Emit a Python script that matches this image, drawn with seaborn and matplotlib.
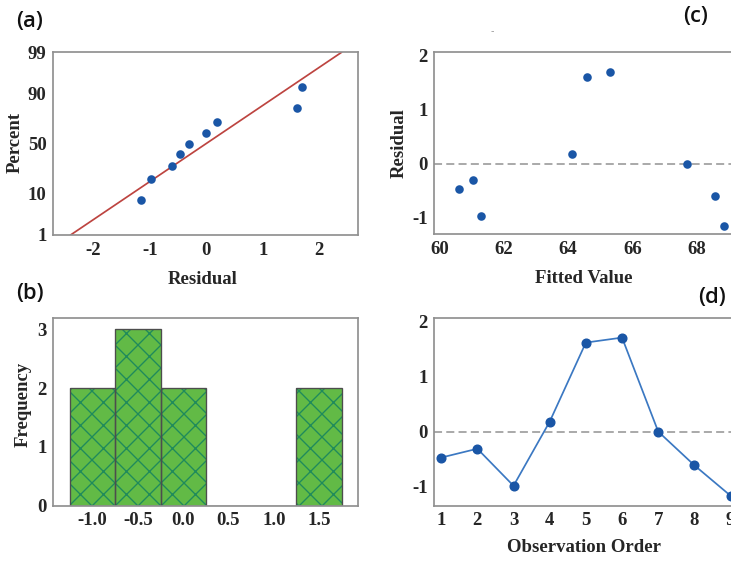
import statistics
import matplotlib
matplotlib.use("Agg")
import matplotlib.pyplot as plt
import matplotlib.ticker as mticker
import seaborn as sns

obs_order = [1, 2, 3, 4, 5, 6, 7, 8, 9]
residuals = [-0.47, -0.31, -0.98, 0.18, 1.61, 1.70, 0.00, -0.61, -1.16]
fitted = [60.60, 61.04, 61.30, 64.13, 64.59, 65.29, 67.68, 68.55, 68.85]

# normal probability plot: percent of each sorted residual
prob_percent = [7.4, 18.1, 28.7, 39.4, 50.0, 60.6, 71.3, 81.9, 92.6]
pct_ticks = [1, 10, 50, 90, 99]

# histogram bins / ticks
hist_edges = [-1.25, -0.75, -0.25, 0.25, 0.75, 1.25, 1.75]
hist_ticks = [-1.0, -0.5, 0.0, 0.5, 1.0, 1.5]

# colours
dot_blue = "#1a56a6"
line_blue = "#3b78c2"
fit_red = "#bd4440"
bar_green = "#62ba46"
hatch_green = "#1f8a5c"
spine_grey = "#909090"

sns.set_theme(style="white")
plt.rcParams["font.family"] = ["Liberation Serif", "DejaVu Serif"]
plt.rcParams["axes.unicode_minus"] = False
plt.rcParams["hatch.linewidth"] = 0.7

DPI = 138
fig = plt.figure(figsize=(732 / DPI, 562 / DPI), dpi=DPI)

ax_a = fig.add_axes([0.0728, 0.5819, 0.4167, 0.3251])
ax_b = fig.add_axes([0.0728, 0.1002, 0.4167, 0.3345])
ax_c = fig.add_axes([0.5933, 0.5831, 0.4176, 0.3238])
ax_d = fig.add_axes([0.5933, 0.1002, 0.4176, 0.3345])

tick_font = dict(family="Liberation Serif", weight="bold", size=9.8)
label_font = dict(family="Liberation Serif", weight="bold", size=9.8)


def style(ax):
    for s in ax.spines.values():
        s.set_color(spine_grey)
        s.set_linewidth(0.9)
        s.set_visible(True)
    ax.tick_params(length=0, pad=3.5)
    for t in ax.get_xticklabels() + ax.get_yticklabels():
        t.set_fontproperties(matplotlib.font_manager.FontProperties(**tick_font))
    ax.grid(False)


# (a) normal probability plot
nd = statistics.NormalDist()
z_pts = [nd.inv_cdf(p / 100) for p in prob_percent]
z_lo, z_hi = nd.inv_cdf(0.01), nd.inv_cdf(0.99)
mu = statistics.mean(residuals)
sd = statistics.stdev(residuals)
sns.lineplot(x=[mu + sd * z_lo, mu + sd * z_hi], y=[z_lo, z_hi], ax=ax_a,
             color=fit_red, linewidth=0.9)
sns.scatterplot(x=sorted(residuals), y=z_pts, ax=ax_a, color=dot_blue,
                s=20, linewidth=0, zorder=3)
ax_a.set_xlim(-2.71, 2.69)
ax_a.set_ylim(z_lo, z_hi)
ax_a.set_xticks([-2, -1, 0, 1, 2])
ax_a.set_yticks([nd.inv_cdf(p / 100) for p in pct_ticks])
ax_a.set_yticklabels([str(p) for p in pct_ticks])
ax_a.tick_params(axis="x", pad=5)
ax_a.set_xlabel("Residual", **label_font, va="center")
ax_a.set_ylabel("Percent", **label_font, va="center", ha="center")
ax_a.xaxis.set_label_coords(0.49, -0.246)
ax_a.yaxis.set_label_coords(-0.1256, 0.509)
style(ax_a)

# (b) histogram
sns.histplot(x=residuals, bins=hist_edges, ax=ax_b, color=bar_green,
             edgecolor=hatch_green, linewidth=0, hatch="xx", alpha=1)
sns.histplot(x=residuals, bins=hist_edges, ax=ax_b, fill=False,
             color="#4d4d4d", linewidth=0.7)
ax_b.set_xlim(-1.435, 1.934)
ax_b.set_ylim(0, 3.2)
ax_b.set_xticks(hist_ticks)
ax_b.set_yticks([0, 1, 2, 3])
ax_b.xaxis.set_major_formatter(mticker.FormatStrFormatter("%.1f"))
ax_b.set_xlabel("")
ax_b.set_ylabel("Frequency", **label_font, va="center", ha="center")
ax_b.yaxis.set_label_coords(-0.0993, 0.536)
style(ax_b)

# (c) residual vs fitted
ax_c.axhline(0, color="#a8a8a8", linewidth=1.0, linestyle=(0, (4.2, 2.2)), zorder=1)
sns.scatterplot(x=fitted, y=residuals, ax=ax_c, color=dot_blue, s=20,
                linewidth=0, zorder=3)
ax_c.set_xlim(59.84, 69.34)
ax_c.set_ylim(-1.31, 2.06)
ax_c.set_xticks([60, 62, 64, 66, 68])
ax_c.set_yticks([-1, 0, 1, 2])
ax_c.set_xlabel("Fitted Value", **label_font, va="center")
ax_c.set_ylabel("Residual", **label_font, va="center", ha="center")
ax_c.xaxis.set_label_coords(0.49, -0.2456)
ax_c.yaxis.set_label_coords(-0.1155, 0.502)
style(ax_c)

# (d) residual vs observation order
ax_d.axhline(0, color="#a8a8a8", linewidth=1.0, linestyle=(0, (4.2, 2.2)), zorder=1)
sns.lineplot(x=obs_order, y=residuals, ax=ax_d, color=line_blue, linewidth=0.9,
             marker="o", markersize=4.5, markerfacecolor=dot_blue,
             markeredgecolor=dot_blue, zorder=3)
ax_d.set_xlim(0.81, 9.26)
ax_d.set_ylim(-1.34, 2.06)
ax_d.set_xticks(obs_order)
ax_d.set_yticks([-1, 0, 1, 2])
ax_d.set_xlabel("Observation Order", **label_font, va="center")
ax_d.set_ylabel("")
ax_d.xaxis.set_label_coords(0.49, -0.225)
style(ax_d)

# panel letters
panel_font = dict(family="Open Sans", weight="semibold", size=11.5,
                  ha="center", va="center", color="#111111")
fig.text(0.0403, 0.9617, "(a)", **panel_font)
fig.text(0.0403, 0.4786, "(b)", **panel_font)
fig.text(0.9501, 0.9706, "(c)", **panel_font)
fig.text(0.9720, 0.4715, "(d)", **panel_font)
fig.text(0.672, 0.9448, "-", family="DejaVu Sans", size=5, color="#999999",
         ha="center", va="center")

fig.savefig("out.png", dpi=DPI)
